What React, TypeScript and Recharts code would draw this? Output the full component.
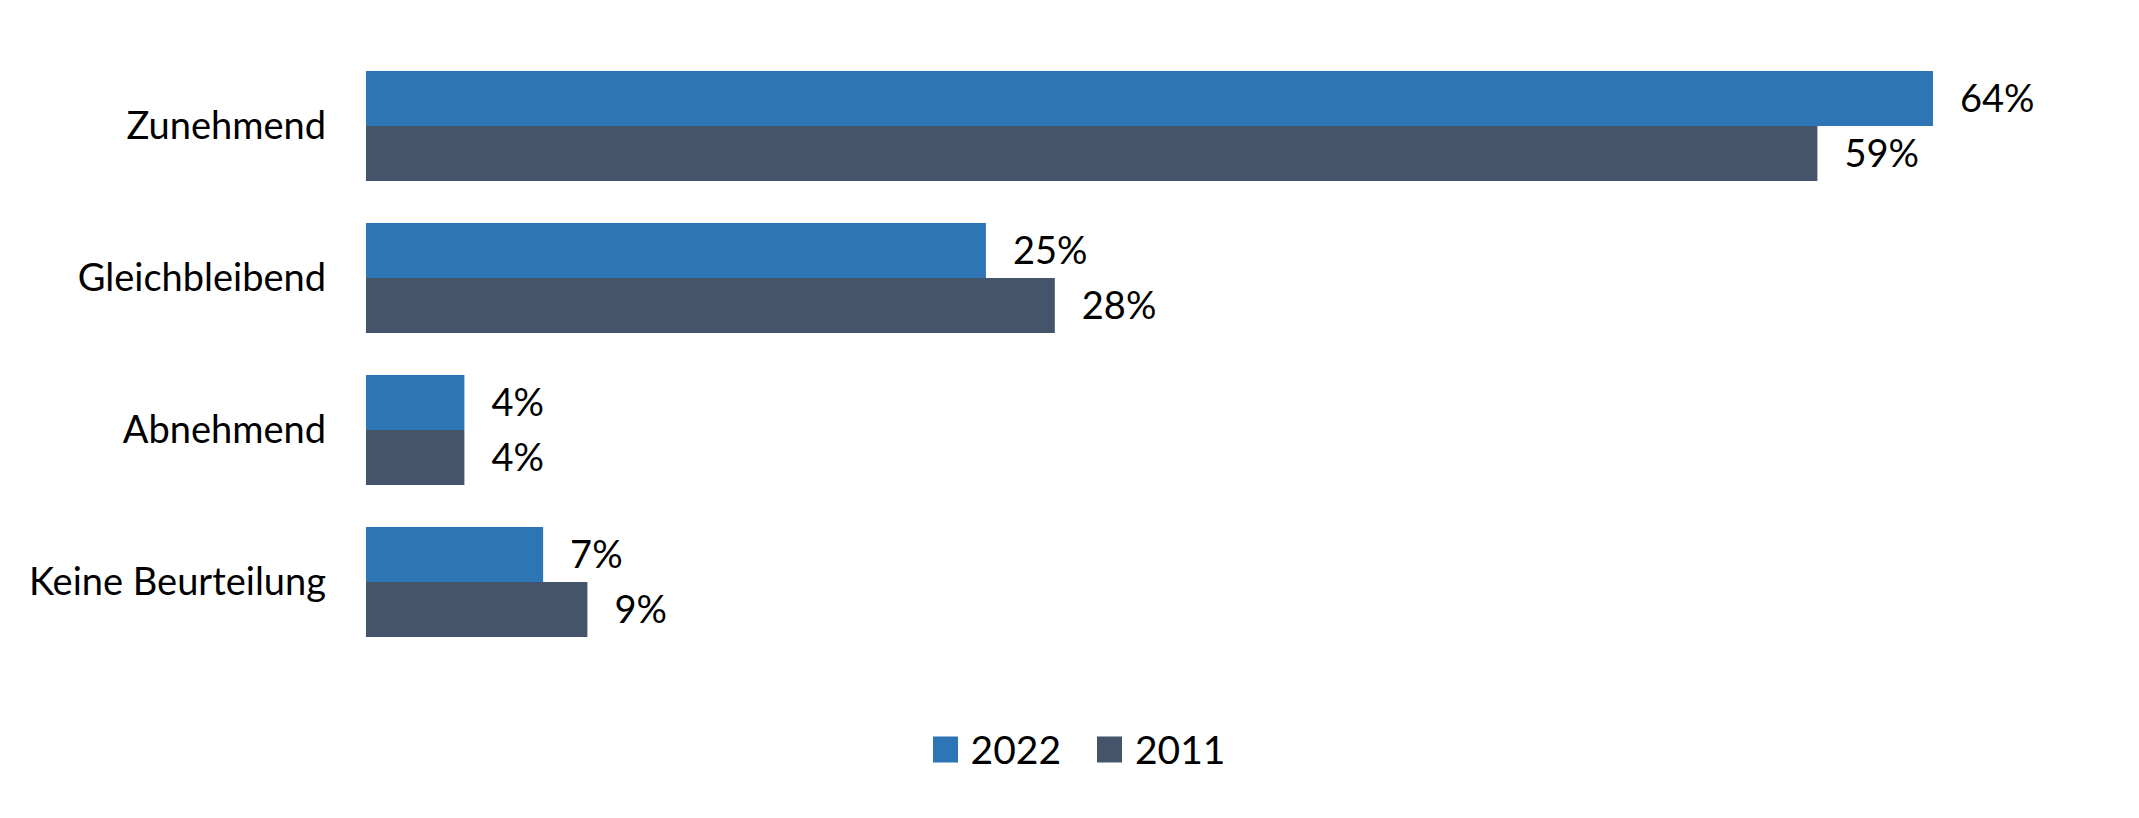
import React from 'react';
import { BarChart, Bar, XAxis, YAxis, Legend, LabelList } from 'recharts';

const categories = ['Zunehmend', 'Gleichbleibend', 'Abnehmend', 'Keine Beurteilung'];
const values2022 = [63.7, 25.2, 4.0, 7.2];
const values2011 = [59.0, 28.0, 4.0, 9.0];
const seriesNames = ['2022', '2011'];
const seriesColors = ['#2E75B6', '#44546A'];

const data = categories.map((c, i) => ({ name: c, s2022: values2022[i], s2011: values2011[i] }));

const FONT = 'Lato, "Open Sans", sans-serif';

const renderLegend = (props: any) => {
  const payload = [...(props.payload || [])].sort(
    (a: any, b: any) => seriesNames.indexOf(a.value) - seriesNames.indexOf(b.value)
  );
  return (
    <div style={{ height: 120, position: 'relative', fontFamily: FONT }}>
      <div
        style={{
          position: 'absolute',
          top: 91,
          left: 70,
          right: 0,
          transform: 'translateY(-50%)',
          display: 'flex',
          justifyContent: 'center',
          alignItems: 'center',
        }}
      >
        {payload.map((p: any, i: number) => (
          <div key={i} style={{ display: 'flex', alignItems: 'center', marginRight: i === 0 ? 36 : 0 }}>
            <div style={{ width: 25, height: 26, background: p.color, marginRight: 13 }} />
            <span style={{ fontSize: 39, color: '#000', lineHeight: 1 }}>{p.value}</span>
          </div>
        ))}
      </div>
    </div>
  );
};

const fmt = (v: any) => `${Math.round(Number(v))}%`;

export default function App() {
  return (
    <div style={{ position: 'absolute', left: 0, top: 0, width: 2139, height: 818, background: '#fff' }}>
      <BarChart
        width={2139}
        height={818}
        data={data}
        layout="vertical"
        margin={{ top: 50, right: 51, bottom: 40, left: 0 }}
        barGap={0}
        barSize={55}
      >
        <XAxis type="number" domain={[0, 70]} hide />
        <YAxis
          type="category"
          dataKey="name"
          width={366}
          axisLine={false}
          tickLine={false}
          tickSize={0}
          tickMargin={40}
          tick={{ fontSize: 38, fill: '#000', fontFamily: FONT }}
        />
        <Legend verticalAlign="bottom" content={renderLegend} />
        <Bar dataKey="s2022" name={seriesNames[0]} fill={seriesColors[0]} isAnimationActive={false}>
          <LabelList
            dataKey="s2022"
            position="right"
            offset={27}
            formatter={fmt}
            style={{ fontSize: 38, fill: '#000', fontFamily: FONT }}
          />
        </Bar>
        <Bar dataKey="s2011" name={seriesNames[1]} fill={seriesColors[1]} isAnimationActive={false}>
          <LabelList
            dataKey="s2011"
            position="right"
            offset={27}
            formatter={fmt}
            style={{ fontSize: 38, fill: '#000', fontFamily: FONT }}
          />
        </Bar>
      </BarChart>
    </div>
  );
}
